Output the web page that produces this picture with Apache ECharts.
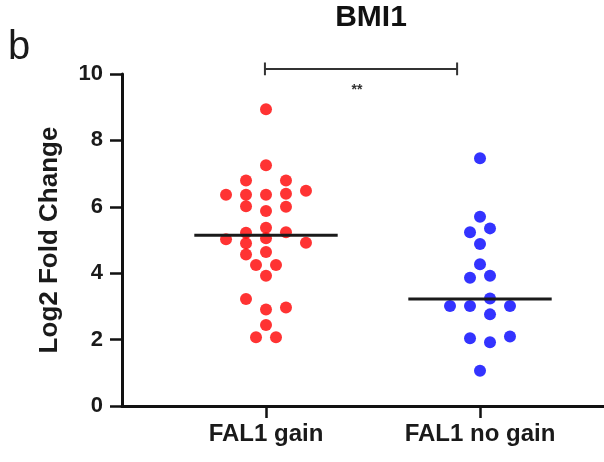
<!DOCTYPE html>
<html>
<head>
<meta charset="utf-8">
<script src="https://cdn.jsdelivr.net/npm/echarts@6/dist/echarts.min.js"></script>
<style>
html,body{margin:0;padding:0;background:#fff;}
#chart{width:604px;height:462px;}
</style>
</head>
<body>
<div id="chart"></div>
<script>
// ---- data ----
const categories = ['FAL1 gain', 'FAL1 no gain'];
const yTicks = [0, 2, 4, 6, 8, 10];
// FAL1 gain (red) values and their dot-column slot in the swarm
const gainValues = [8.94, 7.25, 6.79, 6.79, 6.36, 6.36, 6.36, 6.39, 6.48, 6.02,
                    6.00, 5.87, 5.37, 5.22, 5.23, 5.02, 5.05, 4.90, 4.92, 4.64,
                    4.56, 4.25, 4.25, 3.92, 3.22, 2.91, 2.97, 2.44, 2.07, 2.07];
const gainSlots  = [0, 0, -2, 2, -4, -2, 0, 2, 4, -2,
                    2, 0, 0, -2, 2, -4, 0, -2, 4, 0,
                    -2, -1, 1, 0, -2, 0, 2, 0, -1, 1];
// FAL1 no gain (blue)
const noGainValues = [7.46, 5.70, 5.23, 5.35, 4.88, 4.27, 3.86, 3.92, 3.24, 3.01,
                      3.01, 3.01, 2.76, 2.04, 2.09, 1.92, 1.06];
const noGainSlots  = [0, 0, -1, 1, 0, 0, -1, 1, 1, -3,
                      -1, 3, 1, -1, 3, 1, 0];
const medians = [5.14, 3.22];
const significance = '**';
const bracketValue = 10.15;
const titleText = 'BMI1';
const panelLetter = 'b';

// ---- layout ----
const slotStep = 0.0467;     // horizontal spacing of swarm columns (axis units)
const medianHalf = 0.335;    // half-width of median bar (axis units)
const font = '"Liberation Sans", Arial, sans-serif';

function swarm(values, slots, cat) {
  return values.map((v, i) => [cat + slots[i] * slotStep, v]);
}
function medianLine(cat, m) {
  return [[cat - medianHalf, m], [cat + medianHalf, m]];
}
const bx1 = 0.995, bx2 = 1.893, capUp = 10.35, capDn = 9.96;

const chart = echarts.init(document.getElementById('chart'), null, {renderer: 'canvas'});
chart.setOption({
  animation: false,
  backgroundColor: '#ffffff',
  grid: {left: 122, right: 0, top: 74, bottom: 56, containLabel: false},
  xAxis: {
    type: 'value',
    min: 0.3271,
    max: 2.5794,
    splitLine: {show: false},
    axisLine: {show: true, onZero: false, lineStyle: {color: '#111', width: 3}},
    axisTick: {show: true, length: 12, customValues: [1, 2], lineStyle: {color: '#111', width: 2.5}},
    axisLabel: {
      show: true, customValues: [1, 2], margin: 16,
      formatter: v => categories[Math.round(v) - 1] || '',
      fontFamily: font, fontWeight: 'bold', fontSize: 24, color: '#1a1a1a'
    }
  },
  yAxis: {
    type: 'value',
    min: yTicks[0],
    max: yTicks[yTicks.length - 1],
    interval: 2,
    name: 'Log2 Fold Change',
    nameLocation: 'middle',
    nameGap: 59,
    nameTextStyle: {fontFamily: font, fontWeight: 'bold', fontSize: 26, color: '#1a1a1a'},
    splitLine: {show: false},
    axisLine: {show: true, lineStyle: {color: '#111', width: 3}},
    axisTick: {show: true, length: 12, lineStyle: {color: '#111', width: 2.5}},
    axisLabel: {margin: 19, fontFamily: font, fontWeight: 'bold', fontSize: 22, color: '#1a1a1a'}
  },
  series: [
    {
      type: 'scatter', name: categories[0],
      data: swarm(gainValues, gainSlots, 1),
      symbol: 'circle', symbolSize: 12,
      itemStyle: {color: '#ff0000'}
    },
    {
      type: 'scatter', name: categories[1],
      data: swarm(noGainValues, noGainSlots, 2),
      symbol: 'circle', symbolSize: 12,
      itemStyle: {color: '#0000ff'}
    },
    {
      type: 'line', data: medianLine(1, medians[0]), showSymbol: false, symbol: 'none',
      lineStyle: {color: '#1a1a1a', width: 3}, z: 5
    },
    {
      type: 'line', data: medianLine(2, medians[1]), showSymbol: false, symbol: 'none',
      lineStyle: {color: '#1a1a1a', width: 3}, z: 5
    },
    {
      type: 'line', clip: false, showSymbol: false, symbol: 'none',
      data: [[bx1, capUp], [bx1, capDn], [bx1, bracketValue], [bx2, bracketValue], [bx2, capUp], [bx2, capDn]],
      lineStyle: {color: '#333', width: 2}
    }
  ],
  graphic: [
    {type: 'text', left: 8, top: 28,
     style: {text: panelLetter, font: '40px ' + font, fill: '#1a1a1a'}},
    {type: 'text', x: 371, y: 3,
     style: {text: titleText, font: 'bold 30px ' + font, fill: '#111', textAlign: 'center', textVerticalAlign: 'top'}},
    {type: 'text', x: 357, y: 90,
     style: {text: significance, font: 'bold 14px ' + font, fill: '#333', textAlign: 'center', textVerticalAlign: 'middle'}}
  ]
});
</script>
</body>
</html>
